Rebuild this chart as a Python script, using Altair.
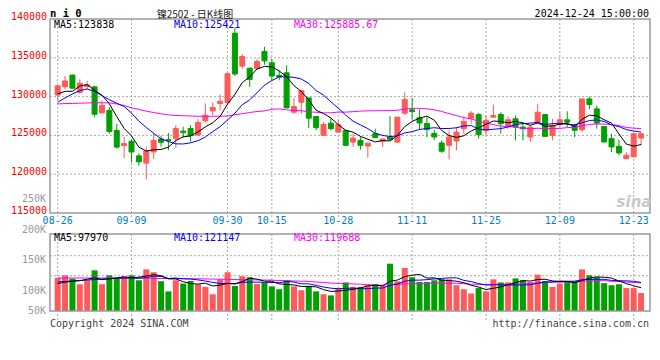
import altair as alt
import pandas as pd
import numpy as np

# ---------------- data ----------------
dates = ["08-26", "08-27", "08-28", "08-29", "08-30",
         "09-02", "09-03", "09-04", "09-05", "09-06",
         "09-09", "09-10", "09-11", "09-12", "09-13",
         "09-18", "09-19", "09-20",
         "09-23", "09-24", "09-25", "09-26", "09-27", "09-30",
         "10-08", "10-09", "10-10", "10-11",
         "10-14", "10-15", "10-16", "10-17", "10-18",
         "10-21", "10-22", "10-23", "10-24", "10-25",
         "10-28", "10-29", "10-30", "10-31", "11-01",
         "11-04", "11-05", "11-06", "11-07", "11-08",
         "11-11", "11-12", "11-13", "11-14", "11-15",
         "11-18", "11-19", "11-20", "11-21", "11-22",
         "11-25", "11-26", "11-27", "11-28", "11-29",
         "12-02", "12-03", "12-04", "12-05", "12-06",
         "12-09", "12-10", "12-11", "12-12", "12-13",
         "12-16", "12-17", "12-18", "12-19", "12-20",
         "12-23", "12-24"]

opens = [130210, 131260, 132770, 130550, 131300, 131260, 127900, 128240, 125630, 123700,
         124250, 122360, 121430, 122860, 124540, 124460, 124620, 125560, 125900, 125050,
         126880, 128160, 129100, 129230, 138170, 133930, 133670, 133590, 135810, 134360,
         132730, 133070, 127990, 129270, 129830, 127440, 125000, 126580, 125420, 125640,
         124140, 124360, 123630, 125220, 124270, 124780, 124140, 127860, 128300, 127270,
         126540, 125260, 124020, 123720, 124280, 125860, 127220, 127690, 125650, 127350,
         127690, 126200, 127140, 126070, 124790, 126710, 127690, 125000, 126410, 127010,
         126290, 125730, 129700, 128420, 126160, 124580, 123600, 122020, 122230, 124660]
highs = [131510, 132650, 132860, 132230, 132020, 131390, 129500, 128660, 126470, 124790,
         124460, 122690, 123530, 125210, 124960, 125300, 126330, 126120, 126330, 127100,
         129100, 129230, 130260, 133070, 138880, 135510, 133670, 134870, 136450, 134870,
         133370, 134010, 129830, 130860, 129830, 127440, 126710, 127270, 127010, 125640,
         125220, 124870, 124010, 125860, 124530, 127470, 127350, 130550, 129830, 128360,
         127350, 125730, 124360, 125650, 126070, 127350, 128120, 127870, 127570, 128980,
         127990, 127440, 127570, 126710, 126290, 129060, 127780, 127140, 127990, 128120,
         126500, 129700, 130000, 128850, 126160, 125220, 124450, 122870, 125220, 125220]
lows = [129500, 130970, 130970, 130340, 130970, 127400, 127900, 125210, 123300, 122100,
        121520, 121100, 119330, 121940, 123530, 123110, 123420, 124710, 124190, 124920,
        126670, 127610, 128250, 128980, 132690, 133590, 131240, 133590, 134100, 132090,
        132090, 128460, 127780, 127780, 125940, 125640, 125000, 125640, 125420, 123590,
        123500, 123170, 122140, 124710, 123500, 124450, 124010, 127650, 127050, 125750,
        124750, 124400, 122740, 121890, 123080, 125220, 126500, 124580, 125000, 127350,
        125220, 125860, 124360, 124360, 124150, 126500, 124790, 124360, 126070, 126070,
        124790, 125430, 128420, 125860, 124150, 122870, 122440, 121890, 122230, 123720]
closes = [131390, 132020, 131090, 131720, 131510, 127730, 128870, 125510, 123490, 123950,
          122860, 121600, 122990, 124370, 124120, 124330, 125900, 125350, 124960, 126670,
          127610, 128590, 129400, 132950, 132910, 135170, 132220, 134530, 134610, 132650,
          132520, 128550, 128720, 130770, 127220, 125990, 126410, 125860, 126410, 123720,
          124650, 123720, 124010, 124710, 124530, 124450, 127350, 129620, 128080, 126600,
          125750, 124790, 122960, 124790, 125430, 126800, 127870, 125090, 126930, 127570,
          126500, 127010, 126070, 125860, 126070, 127990, 124880, 126290, 127010, 126710,
          125650, 129700, 128980, 126580, 124150, 123510, 122740, 122440, 125220, 125220]
volumes = [141, 151, 137, 113, 130, 172, 113, 151, 137, 147,
           151, 130, 176, 164, 126, 83, 130, 116, 127, 113,
           102, 71, 134, 164, 106, 147, 143, 114, 121, 104,
           92, 130, 104, 88, 106, 83, 71, 66, 97, 121,
           102, 102, 109, 113, 106, 200, 126, 182, 143, 123,
           123, 130, 134, 134, 109, 92, 74, 97, 83, 134,
           121, 121, 138, 130, 123, 154, 127, 102, 116, 126,
           126, 176, 151, 143, 118, 109, 113, 97, 97, 76]  # thousands

# moving-average values read at the start (window reaches before the first shown day)
ma5_lead = [130340, 130680, 130680, 131370]
ma10_lead = [129270, 129830, 130340, 130770, 130980, 130680, 130130, 129600, 129150]
ma30_lead = [129060, 129100, 129120, 129150, 129180, 129200, 129200, 129190, 129050, 128850,
             128550, 128350, 128120, 127950, 127780, 127650, 127560, 127540, 127500, 127470,
             127460, 127460, 127470, 127500, 127650, 127800, 127950, 128080, 128150]
vma5_lead = [116, 122, 126, 128]
vma10_lead = [123, 125, 127, 129, 131, 133, 135, 137, 138]
vma30_lead = [139.5, 139.5, 139.5, 139.5, 139.5, 139.5, 139.5, 139.5, 139.5, 139.5,
              139.5, 139.5, 139.5, 138, 137.5, 137.5, 137, 137, 136.5, 136.5,
              135.5, 135, 134.5, 134, 133, 132.5, 132, 131.5, 131]

date_ticks = ["08-26", "09-09", "09-30", "10-15", "10-28", "11-11", "11-25", "12-09", "12-23"]
price_ticks = [140000, 135000, 130000, 125000, 120000, 115000]
price_grid = [135000, 130000, 125000, 120000]

# ---------------- frames ----------------
n = len(dates)
df = pd.DataFrame({"i": range(n), "date": dates, "open": opens, "high": highs,
                   "low": lows, "close": closes, "vol": [v * 1000 for v in volumes]})
df["dir"] = np.where(df["close"] >= df["open"], "up", "down")


def moving(series, w, lead):
    m = series.rolling(w).mean()
    m.iloc[: w - 1] = lead
    return m


df["ma5"] = moving(df["close"], 5, ma5_lead)
df["ma10"] = moving(df["close"], 10, ma10_lead)
df["ma30"] = moving(df["close"], 30, ma30_lead)
df["vma5"] = moving(df["vol"], 5, [v * 1000 for v in vma5_lead])
df["vma10"] = moving(df["vol"], 10, [v * 1000 for v in vma10_lead])
df["vma30"] = moving(df["vol"], 30, [v * 1000 for v in vma30_lead])

ticks_df = pd.DataFrame({"label": date_ticks, "i": [dates.index(d) for d in date_ticks]})
pt_df = pd.DataFrame({"p": price_ticks})
pg_df = pd.DataFrame({"p": price_grid})
one = pd.DataFrame({"a": [0]})

# ---------------- scales / styles ----------------
W, H = 600, 292
RED, GREEN = "#FF5A5A", "#00A000"
MONO = "DejaVu Sans Mono"
xs = alt.Scale(domain=[-0.36, 79.53], nice=False, zero=False)
ps = alt.Scale(domain=[102371, 140000], nice=False, zero=False)
vs = alt.Scale(domain=[0, 1235160], nice=False, zero=False)
cs = alt.Scale(domain=["up", "down"], range=[RED, GREEN])

X = alt.X("i:Q", scale=xs, axis=None)
col = alt.Color("dir:N", scale=cs, legend=None)
stk = alt.Stroke("dir:N", scale=cs, legend=None)

layers = []

# grid
for y0, y1 in [(0, 198), (215, 303)]:
    layers.append(alt.Chart(ticks_df).mark_rule(color="#AAAAAA", strokeDash=[2, 2], strokeWidth=1)
                  .encode(x=X, y=alt.value(y0), y2=alt.value(y1)))
layers.append(alt.Chart(pg_df).mark_rule(color="#AAAAAA", strokeDash=[2, 2], strokeWidth=1)
              .encode(y=alt.Y("p:Q", scale=ps, axis=None), x=alt.value(0), x2=alt.value(W)))
for yv in [236.7, 256.7]:
    layers.append(alt.Chart(one).mark_rule(color="#AAAAAA", strokeDash=[2, 2], strokeWidth=1)
                  .encode(y=alt.value(yv), x=alt.value(0), x2=alt.value(W)))

# candles
layers.append(alt.Chart(df).mark_rule(strokeWidth=1).encode(
    x=X, y=alt.Y("low:Q", scale=ps, axis=None), y2="high:Q", color=col))
layers.append(alt.Chart(df).mark_bar(size=5, strokeWidth=1).encode(
    x=X, y=alt.Y("open:Q", scale=ps, axis=None), y2="close:Q", color=col, stroke=stk))

# price MA lines
for fld, c in [("ma30", "#FF00FF"), ("ma10", "#0000FF"), ("ma5", "#000000")]:
    layers.append(alt.Chart(df).mark_line(color=c, strokeWidth=1).encode(
        x=X, y=alt.Y(f"{fld}:Q", scale=ps, axis=None)))

# volume bars
layers.append(alt.Chart(df).mark_bar(size=6).encode(
    x=X, y=alt.Y("vol:Q", scale=vs, axis=None), y2=alt.datum(0), color=col))
for fld, c in [("vma30", "#FF00FF"), ("vma10", "#0000FF"), ("vma5", "#000000")]:
    layers.append(alt.Chart(df).mark_line(color=c, strokeWidth=1).encode(
        x=X, y=alt.Y(f"{fld}:Q", scale=vs, axis=None)))

# panel borders
for y0, y1 in [(0, 194), (215, 292)]:
    layers.append(alt.Chart(one).mark_rect(fillOpacity=0, stroke="#999999", strokeWidth=1.5).encode(
        x=alt.value(0), x2=alt.value(W), y=alt.value(y0), y2=alt.value(y1)))

# axis labels
layers.append(alt.Chart(pt_df).mark_text(align="right", baseline="middle", dy=-2, color="#FF0000",
                                         font=MONO, fontSize=10).encode(
    x=alt.value(-3), y=alt.Y("p:Q", scale=ps, axis=None), text=alt.Text("p:Q", format="d")))
layers.append(alt.Chart(ticks_df).mark_text(align="center", baseline="middle", color="#0080C0",
                                            font=MONO, fontSize=10).encode(
    x=X, y=alt.value(202), text="label:N"))


def txt(s, x, y, color, size=10, align="left", bold=False, font=MONO, italic=False, baseline="middle"):
    return alt.Chart(one).mark_text(text=s, align=align, baseline=baseline, color=color,
                                    fontSize=size, font=font,
                                    fontWeight="bold" if bold else "normal",
                                    fontStyle="italic" if italic else "normal").encode(
        x=alt.value(x), y=alt.value(y))


layers += [
    txt("n i 0", 0, -5.5, "#000000", size=10.5, bold=True),
    txt("镍2502 - 日K线图", 145, -9, "#222222", size=10, align="center",
        font="Noto Sans CJK SC", baseline="top"),
    txt("2024-12-24 15:00:00", 599, -5.5, "#000000", align="right"),
    txt("MA5:123838", 4, 6, "#000000"),
    txt("MA10:125421", 124, 6, "#0000FF"),
    txt("MA30:125885.67", 244, 6, "#FF00FF"),
    txt("MA5:97970", 4, 219.3, "#000000"),
    txt("MA10:121147", 124, 219.3, "#0000FF"),
    txt("MA30:119688", 244, 219.3, "#FF00FF"),
    txt("250K", -4, 180, "#999999", align="right"),
    txt("200K", -4, 211, "#999999", align="right"),
    txt("150K", -4, 241, "#999999", align="right"),
    txt("100K", -4, 272, "#999999", align="right"),
    txt("50K", -4, 292, "#999999", align="right"),
    txt("Copyright 2024 SINA.COM", 0, 305, "#444444"),
    txt("http://finance.sina.com.cn", 599, 305, "#444444", align="right"),
    txt("sina", 584, 183, "#C8C8C8", size=15, align="center", bold=True, font="DejaVu Sans", italic=True),
]

chart = alt.layer(*layers).resolve_scale(y="independent", color="independent", stroke="independent").properties(
    width=W, height=H,
    padding={"left": 42, "top": 11, "right": 2, "bottom": 30},
    autosize=alt.AutoSizeParams(type="none"),
    background="white",
).configure_view(stroke=None)

chart.save("out.html", embed_options={"renderer": "svg", "actions": False})
